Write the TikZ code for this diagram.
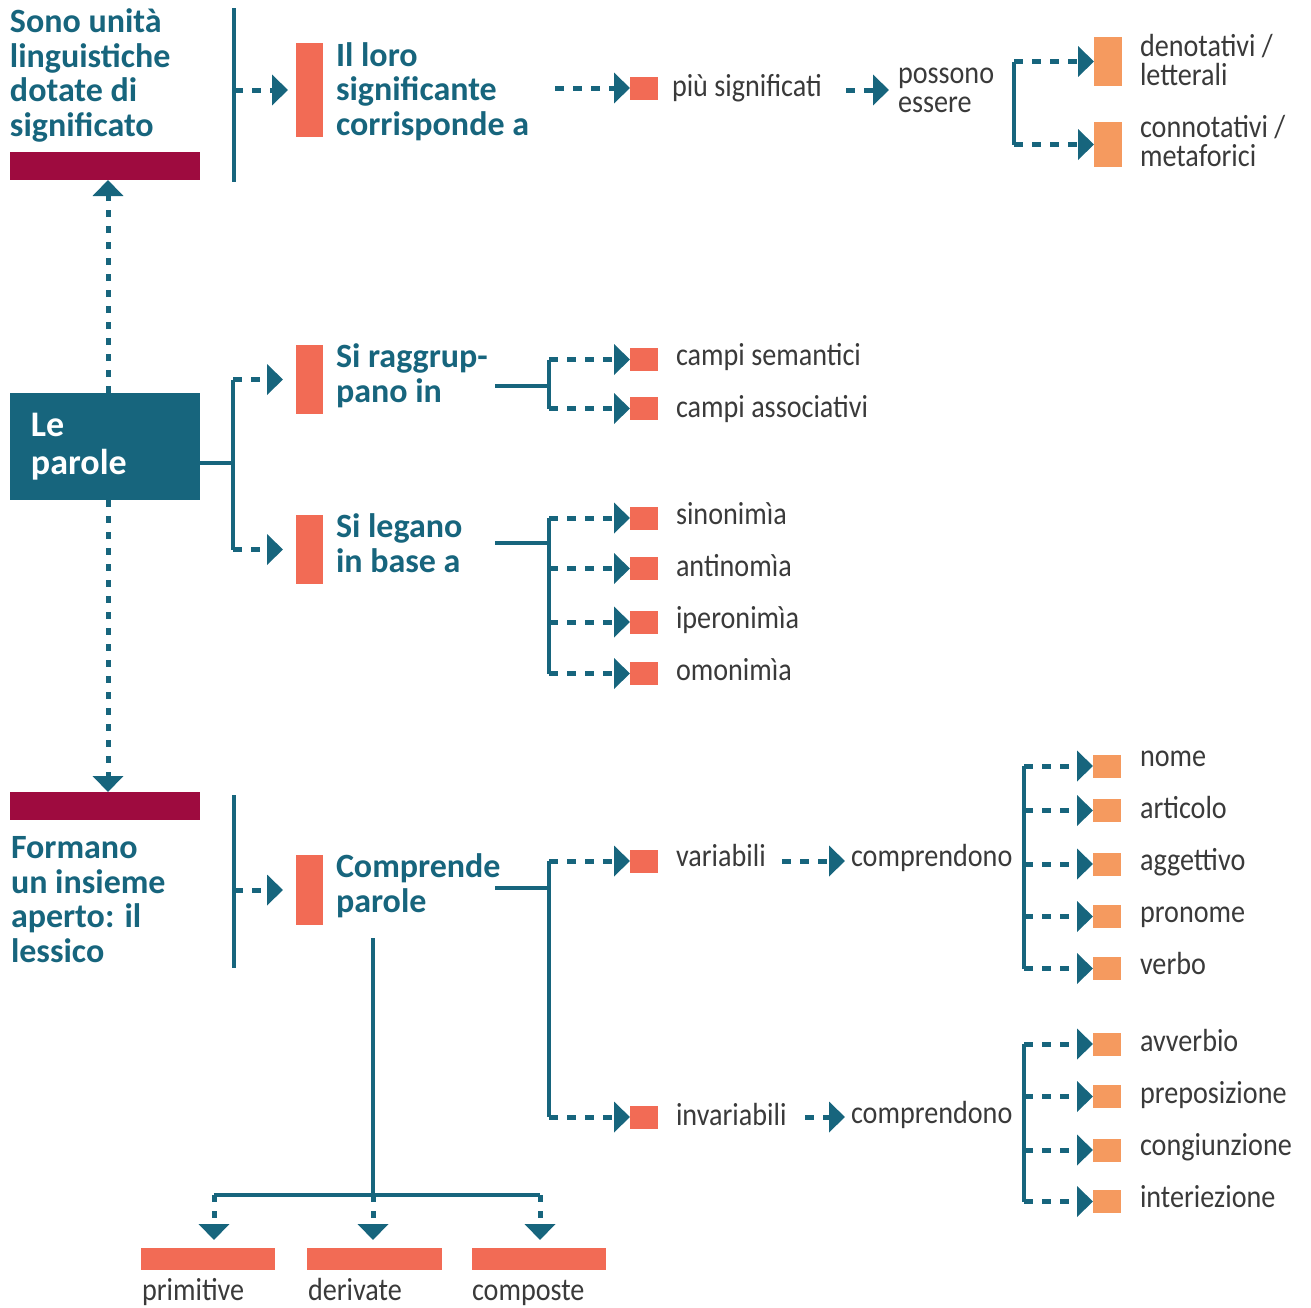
\documentclass[tikz,border=0pt]{standalone}
\usepackage{fontspec}
\setmainfont{Carlito}[FakeStretch=0.88]
\newfontfamily\headfont{Carlito}
\usetikzlibrary{arrows.meta}
\definecolor{petrolio}{HTML}{17657D}
\definecolor{corallo}{HTML}{F26B55}
\definecolor{pesca}{HTML}{F59A5F}
\definecolor{vinaccia}{HTML}{9E0B3F}
\definecolor{grigio}{HTML}{3A3A3A}
\begin{document}
\begin{tikzpicture}
[x=0.5pt,y=-0.5pt,
titolo/.style={anchor=base west, align=left, text=petrolio, font=\headfont\bfseries\fontsize{17}{17.25}\selectfont},
voce/.style={anchor=base west, align=left, text=grigio, font=\fontsize{16}{14.5}\selectfont},
barra/.style={fill=corallo, minimum width=13.5pt},
quadro/.style={fill=corallo, minimum width=14pt, minimum height=11.5pt},
quadroc/.style={fill=pesca, minimum width=14pt, minimum height=11.5pt},
fascia/.style={fill=vinaccia, minimum width=95pt, minimum height=14pt},
tratto/.style={draw=petrolio, line width=2.3pt},
freccia/.style={draw=petrolio, line width=2.5pt, dash pattern=on 4.5pt off 4.5pt, -{Triangle[length=8pt,width=15pt]}},
puntini/.style={draw=petrolio, line width=2.5pt, dash pattern=on 3.5pt off 4.5pt, -{Triangle[length=8pt,width=15pt]}}
]
\tikzset{every node/.style={inner sep=0pt, outer sep=0pt}}
%\tikzset{every node/.style={draw=red}}
\useasboundingbox (0,0) rectangle (1311,1307);

% in alto (le etichette su piu righe sono ancorate all'ultima riga)
\node[titolo] (unita) at (10,136) {Sono unità\\linguistiche\\dotate di\\significato};
\node[fascia] (fasciasu) at (105,166) {};
\coordinate (l1a) at (234,8);
\coordinate (l1b) at (234,182);
\draw[tratto] (l1a) -- (l1b);
\node[barra, minimum height=47pt] (bloro) at (309.5,90) {};
\draw[freccia, shorten >=4pt] (l1a |- bloro.west) -- (bloro.west);
\node[titolo] (loro) at (336,135) {Il loro\\significante\\corrisponde a};
\node[quadro] (qpiu) at (644,88) {};
\coordinate (lorofine) at (555,88);
\draw[freccia] (lorofine) -- (qpiu.west);
\node[voce] (piu) at (672,96) {più significati};
\coordinate (piufine) at (846,90);
\node[voce] (possono) at (898,112) {possono\\essere};
\draw[freccia, shorten >=4.5pt] (piufine) -- (piufine -| possono.west);
\coordinate (b1a) at (1014,61.5);
\coordinate (b1b) at (1014,144.5);
\draw[tratto] (b1a) -- (b1b);
\node[quadroc, minimum height=24.5pt] (qden) at (1108,61.5) {};
\node[quadroc, minimum height=22.5pt] (qcon) at (1108,144.5) {};
\draw[freccia] (b1a) -- (qden.west);
\draw[freccia] (b1b) -- (qcon.west);
\node[voce] (den) at (1140,85) {denotativi /\\letterali};
\node[voce] (con) at (1140,166) {connotativi /\\metaforici};

% al centro
\node[fill=petrolio, minimum width=95pt, minimum height=53.5pt, text width=74pt, align=left,
      text=white, font=\headfont\bfseries\fontsize{18}{19}\selectfont] (parole) at (105,446.5) {Le\\parole};
\draw[puntini] ([xshift=1.5pt]parole.north) -- ([xshift=1.5pt]fasciasu.south);
\coordinate (b2m) at (233,463);
\coordinate (b2a) at (233,379.5);
\coordinate (b2b) at (233,549.5);
\draw[tratto] (parole.east |- b2m) -- (b2m);
\draw[tratto] (b2a) -- (b2b);
\node[barra, minimum height=34.5pt] (bragg) at (309.5,379.5) {};
\node[barra, minimum height=34.5pt] (bleg) at (309.5,549.5) {};
\draw[freccia, shorten >=6.5pt] (b2a) -- (bragg.west);
\draw[freccia, shorten >=6.5pt] (b2b) -- (bleg.west);
\node[titolo] (ragg) at (336,402) {Si raggrup-\\pano in};
\node[titolo] (leg) at (336,572) {Si legano\\in base a};

\coordinate (r0) at (495,386);
\coordinate (r1) at (549,386);
\draw[tratto] (r0) -- (r1);
\coordinate (b3a) at (549,359.5);
\coordinate (b3b) at (549,408.5);
\draw[tratto] (b3a) -- (b3b);
\node[quadro] (qsem) at (644,359.5) {};
\node[quadro] (qass) at (644,408.5) {};
\draw[freccia] (b3a) -- (qsem.west);
\draw[freccia] (b3b) -- (qass.west);
\node[voce] (sem) at (676,365) {campi semantici};
\node[voce] (ass) at (676,417) {campi associativi};

\coordinate (s0) at (495,543);
\coordinate (s1) at (549,543);
\draw[tratto] (s0) -- (s1);
\coordinate (b4a) at (549,518);
\coordinate (b4b) at (549,673.5);
\draw[tratto] (b4a) -- (b4b);
\node[quadro] (qsin) at (644,518) {};
\node[quadro] (qant) at (644,568.5) {};
\node[quadro] (qipe) at (644,622) {};
\node[quadro] (qomo) at (644,673.5) {};
\draw[freccia] (b4a) -- (qsin.west);
\draw[freccia] (b4a |- qant) -- (qant.west);
\draw[freccia] (b4a |- qipe) -- (qipe.west);
\draw[freccia] (b4b) -- (qomo.west);
\node[voce] (sin) at (676,524) {sinonimìa};
\node[voce] (ant) at (676,576) {antinomìa};
\node[voce] (ipe) at (676,628) {iperonimìa};
\node[voce] (omo) at (676,680) {omonimìa};

% in basso
\node[fascia] (fasciagiu) at (105,806) {};
\draw[puntini] ([xshift=1.5pt]parole.south) -- ([xshift=1.5pt]fasciagiu.north);
\node[titolo] (formano) at (11,962) {Formano\\un insieme\\aperto: il\\lessico};
\coordinate (l2a) at (234,795);
\coordinate (l2b) at (234,968);
\draw[tratto] (l2a) -- (l2b);
\node[barra, minimum height=35pt] (bcomp) at (309.5,890) {};
\draw[freccia, shorten >=6.5pt] (l2a |- bcomp.west) -- (bcomp.west);
\node[titolo] (comp) at (336,912) {Comprende\\parole};
\coordinate (c0) at (495,888);
\coordinate (c1) at (549,888);
\draw[tratto] (c0) -- (c1);
\coordinate (b5a) at (549,861);
\coordinate (b5b) at (549,1117);
\draw[tratto] (b5a) -- (b5b);
\node[quadro] (qvar) at (644,861) {};
\node[quadro] (qinv) at (644,1117) {};
\draw[freccia] (b5a) -- (qvar.west);
\draw[freccia] (b5b) -- (qinv.west);
\node[voce] (var) at (676,866) {variabili};
\node[voce] (inv) at (676,1125) {invariabili};
\coordinate (varfine) at (782,861);
\coordinate (invfine) at (805,1117);
\node[voce] (compv) at (851,866) {comprendono};
\node[voce] (compi) at (851,1123) {comprendono};
\draw[freccia, shorten >=3pt] (varfine) -- (varfine -| compv.west);
\draw[freccia, shorten >=3pt] (invfine) -- (invfine -| compi.west);

\coordinate (b6a) at (1024,766);
\coordinate (b6b) at (1024,968.5);
\draw[tratto] (b6a) -- (b6b);
\node[quadroc] (qnome) at (1107,766) {};
\node[quadroc] (qart) at (1107,810.5) {};
\node[quadroc] (qagg) at (1107,864) {};
\node[quadroc] (qpro) at (1107,916.5) {};
\node[quadroc] (qver) at (1107,968.5) {};
\draw[freccia] (b6a) -- (qnome.west);
\draw[freccia] (b6a |- qart) -- (qart.west);
\draw[freccia] (b6a |- qagg) -- (qagg.west);
\draw[freccia] (b6a |- qpro) -- (qpro.west);
\draw[freccia] (b6b) -- (qver.west);
\node[voce] (nome) at (1140,766) {nome};
\node[voce] (art) at (1140,818) {articolo};
\node[voce] (agg) at (1140,870) {aggettivo};
\node[voce] (pro) at (1140,922) {pronome};
\node[voce] (ver) at (1140,974) {verbo};

\coordinate (b7a) at (1024,1044);
\coordinate (b7b) at (1024,1201.5);
\draw[tratto] (b7a) -- (b7b);
\node[quadroc] (qavv) at (1107,1044) {};
\node[quadroc] (qpre) at (1107,1096.5) {};
\node[quadroc] (qcong) at (1107,1150) {};
\node[quadroc] (qint) at (1107,1201.5) {};
\draw[freccia] (b7a) -- (qavv.west);
\draw[freccia] (b7a |- qpre) -- (qpre.west);
\draw[freccia] (b7a |- qcong) -- (qcong.west);
\draw[freccia] (b7b) -- (qint.west);
\node[voce] (avv) at (1140,1051) {avverbio};
\node[voce] (pre) at (1140,1103) {preposizione};
\node[voce] (cong) at (1140,1155) {congiunzione};
\node[voce] (int) at (1140,1207) {interiezione};

\coordinate (t0) at (373,938);
\coordinate (t1) at (373,1195);
\coordinate (tl) at (214,1195);
\coordinate (tr) at (540,1195);
\draw[tratto] (t0) -- (t1);
\draw[tratto] (tl) -- (tr);
\node[fill=corallo, minimum width=67pt, minimum height=11pt] (bprim) at (208,1259) {};
\node[fill=corallo, minimum width=67.5pt, minimum height=11pt] (bder) at (374.5,1259) {};
\node[fill=corallo, minimum width=67pt, minimum height=11pt] (bcomposte) at (539,1259) {};
\draw[puntini, shorten >=4pt] (tl) -- (tl |- bprim.north);
\draw[puntini, shorten >=4pt] (t1) -- (t1 |- bder.north);
\draw[puntini, shorten >=4pt] (tr) -- (tr |- bcomposte.north);
\node[voce] (prim) at (142,1300) {primitive};
\node[voce] (der) at (308,1300) {derivate};
\node[voce] (composte) at (472,1300) {composte};
\end{tikzpicture}
\end{document}
